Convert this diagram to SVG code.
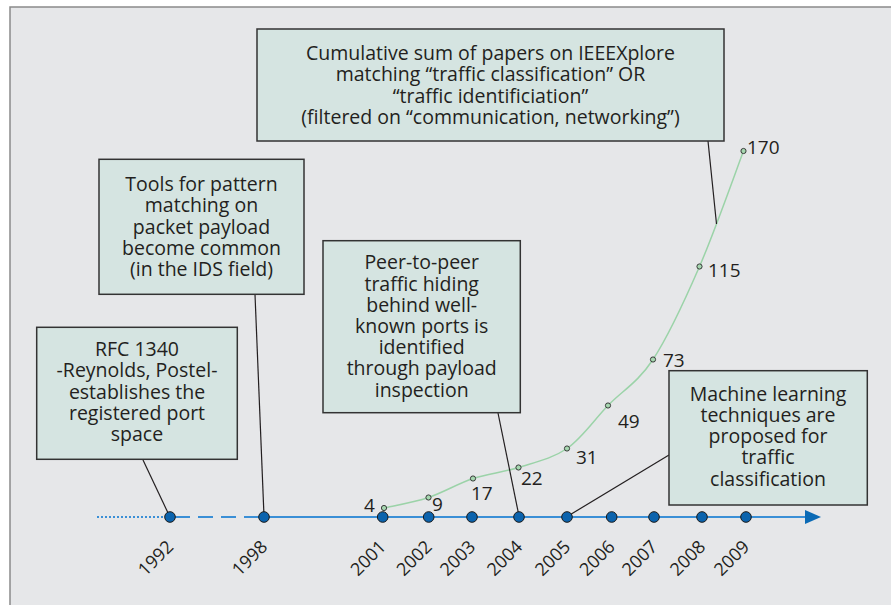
<svg xmlns="http://www.w3.org/2000/svg" width="891" height="605" viewBox="0 0 891 605">
<style>
.box rect{fill:#d5e4e1;stroke:#333;stroke-width:1.5}
.bt{font-family:"Open Sans","Liberation Sans",sans-serif;font-size:19.5px;fill:#231f20;text-anchor:middle}
.num{font-family:"Open Sans","Liberation Sans",sans-serif;font-size:19px;fill:#231f20}
.yr{font-family:"Open Sans","Liberation Sans",sans-serif;font-size:18px;fill:#231f20;text-anchor:end}
.conn line{stroke:#231f20;stroke-width:1.2}
.dot{fill:#0b63ad;stroke:#1a1a1a;stroke-width:1}
.pt{fill:#a6d7b0;stroke:#2a2a2a;stroke-width:0.9}
</style>
<rect x="0" y="0" width="891" height="605" fill="#fff"/>
<rect x="10" y="7" width="881" height="598" fill="#e6e7e9"/>
<path d="M10,605 V7 H891" fill="none" stroke="#8a8a8a" stroke-width="1.5"/>

<g id="axis">
<line x1="97" y1="517" x2="166" y2="517" stroke="#3a8fd6" stroke-width="2" stroke-dasharray="2,2"/>
<line x1="175" y1="517" x2="259" y2="517" stroke="#3a8fd6" stroke-width="2" stroke-dasharray="15,8"/>
<line x1="264" y1="517" x2="807" y2="517" stroke="#3a8fd6" stroke-width="2"/>
<polygon points="805,510 821,517 805,524" fill="#0b6ab5"/>
</g>

<g id="curve">
<path d="M384,508 C391.4,506.25 413.7,502.4 428.5,497.5 C443.3,492.6 458,483.5 473,478.5 C488,473.5 502.8,472.5 518.5,467.5 C534.2,462.5 552.1,458.8 567,448.5 C581.9,438.2 593.7,420.3 608,405.5 C622.3,390.7 637.75,382.7 653,359.5 C668.25,336.3 684.4,301.25 699.5,266.5 C714.6,231.75 736.2,170.25 743.5,151" fill="none" stroke="#9bd3a8" stroke-width="1.5"/>
</g>

<g class="conn" id="connectors">
<line x1="143" y1="460" x2="169" y2="515"/>
<line x1="255" y1="294.5" x2="264" y2="516"/>
<line x1="498" y1="413" x2="519" y2="516"/>
<line x1="669" y1="455" x2="568" y2="516"/>
<line x1="708" y1="141" x2="716.5" y2="224"/>
</g>

<g id="points">
<circle class="pt" cx="384" cy="508" r="2.6"/>
<circle class="pt" cx="428.5" cy="497.5" r="2.6"/>
<circle class="pt" cx="473" cy="478.5" r="2.6"/>
<circle class="pt" cx="518.5" cy="467.5" r="2.6"/>
<circle class="pt" cx="567" cy="448.5" r="2.6"/>
<circle class="pt" cx="608" cy="405.5" r="2.6"/>
<circle class="pt" cx="653" cy="359.5" r="2.6"/>
<circle class="pt" cx="699.5" cy="266.5" r="2.6"/>
<circle class="pt" cx="743.5" cy="151" r="2.6"/>
<text class="num" x="364" y="512">4</text>
<text class="num" x="432" y="511">9</text>
<text class="num" x="471" y="500">17</text>
<text class="num" x="521" y="485">22</text>
<text class="num" x="576" y="464">31</text>
<text class="num" x="618" y="428">49</text>
<text class="num" x="663" y="367">73</text>
<text class="num" x="708" y="277">115</text>
<text class="num" x="747" y="154">170</text>
</g>

<g id="years">
<circle class="dot" cx="170" cy="517" r="5.3"/>
<circle class="dot" cx="264" cy="517" r="5.3"/>
<circle class="dot" cx="382.7" cy="517" r="5.3"/>
<circle class="dot" cx="428.7" cy="517" r="5.3"/>
<circle class="dot" cx="472" cy="517" r="5.3"/>
<circle class="dot" cx="519" cy="517" r="5.3"/>
<circle class="dot" cx="567" cy="517" r="5.3"/>
<circle class="dot" cx="611.7" cy="517" r="5.3"/>
<circle class="dot" cx="654" cy="517" r="5.3"/>
<circle class="dot" cx="702" cy="517" r="5.3"/>
<circle class="dot" cx="746" cy="517" r="5.3"/>
<text class="yr" transform="translate(174.5,548) rotate(-45)">1992</text>
<text class="yr" transform="translate(268.5,548) rotate(-45)">1998</text>
<text class="yr" transform="translate(387,548) rotate(-45)">2001</text>
<text class="yr" transform="translate(433,548) rotate(-45)">2002</text>
<text class="yr" transform="translate(476.5,548) rotate(-45)">2003</text>
<text class="yr" transform="translate(523.5,548) rotate(-45)">2004</text>
<text class="yr" transform="translate(571.5,548) rotate(-45)">2005</text>
<text class="yr" transform="translate(616,548) rotate(-45)">2006</text>
<text class="yr" transform="translate(658.5,548) rotate(-45)">2007</text>
<text class="yr" transform="translate(706.5,548) rotate(-45)">2008</text>
<text class="yr" transform="translate(750.5,548) rotate(-45)">2009</text>
</g>

<g id="box-ieee" class="box">
<rect x="257" y="29" width="467" height="112"/>
<text class="bt" y="60"><tspan x="490.5">Cumulative sum of papers on IEEEXplore</tspan><tspan x="490.5" dy="21.3">matching “traffic classification” OR</tspan><tspan x="490.5" dy="21.3">“traffic identificiation”</tspan><tspan x="490.5" dy="21.3">(filtered on “communication, networking”)</tspan></text>
</g>

<g id="box-tools" class="box">
<rect x="99" y="159.3" width="205" height="135"/>
<text class="bt" y="191"><tspan x="201.5">Tools for pattern</tspan><tspan x="201.5" dy="21.3">matching on</tspan><tspan x="201.5" dy="21.3">packet payload</tspan><tspan x="201.5" dy="21.3">become common</tspan><tspan x="201.5" dy="21.3">(in the IDS field)</tspan></text>
</g>

<g id="box-rfc" class="box">
<rect x="36.7" y="327.3" width="200.6" height="132"/>
<text class="bt" y="356"><tspan x="137">RFC 1340</tspan><tspan x="137" dy="21.3">-Reynolds, Postel-</tspan><tspan x="137" dy="21.3">establishes the</tspan><tspan x="137" dy="21.3">registered port</tspan><tspan x="137" dy="21.3">space</tspan></text>
</g>

<g id="box-p2p" class="box">
<rect x="323" y="240.7" width="197.3" height="172"/>
<text class="bt" y="269.3"><tspan x="421.7">Peer-to-peer</tspan><tspan x="421.7" dy="21.2">traffic hiding</tspan><tspan x="421.7" dy="21.2">behind well-</tspan><tspan x="421.7" dy="21.2">known ports is</tspan><tspan x="421.7" dy="21.2">identified</tspan><tspan x="421.7" dy="21.2">through payload</tspan><tspan x="421.7" dy="21.2">inspection</tspan></text>
</g>

<g id="box-ml" class="box">
<rect x="669" y="370.7" width="198.3" height="134.3"/>
<text class="bt" y="400.7"><tspan x="768">Machine learning</tspan><tspan x="768" dy="21.2">techniques are</tspan><tspan x="768" dy="21.2">proposed for</tspan><tspan x="768" dy="21.2">traffic</tspan><tspan x="768" dy="21.2">classification</tspan></text>
</g>
</svg>
